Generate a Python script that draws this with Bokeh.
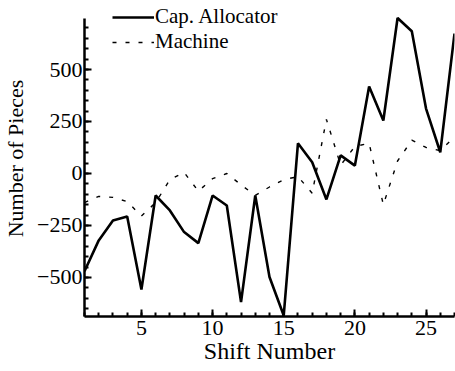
from bokeh.plotting import figure
from bokeh.models import Range1d, SingleIntervalTicker, Legend, LegendItem
from bokeh.embed import file_html
from bokeh.resources import INLINE

shifts = list(range(1, 28))
cap_allocator = [-470, -322, -226, -207, -558, -106, -178, -282, -335, -106,
                 -154, -619, -106, -498, -683, 145, 54, -125, 87, 38,
                 418, 255, 748, 684, 312, 102, 673]
machine = [-140, -110, -115, -135, -205, -140, -30, 5, -85, -25,
           0, -55, -105, -65, -30, -15, -95, 260, 40, 130,
           145, -150, 60, 160, 125, 110, 175]

FONT = "Liberation Serif"

p = figure(width=455, height=371, output_backend="svg", toolbar_location=None,
           x_range=Range1d(1, 27), y_range=Range1d(-688, 832),
           min_border_left=77, min_border_right=1, min_border_top=0,
           min_border_bottom=55)
p.outline_line_color = None
p.xgrid.visible = False
p.ygrid.visible = False
p.background_fill_color = "white"
p.border_fill_color = "white"

r1 = p.line(shifts, cap_allocator, line_color="black", line_width=2.6)
r2 = p.line(shifts, machine, line_color="black", line_width=1.4, line_dash="4 9")

for ax in (p.xaxis[0], p.yaxis[0]):
    ax.axis_line_width = 2.5
    ax.axis_line_color = "black"
    ax.major_tick_in = 7
    ax.major_tick_out = 0
    ax.minor_tick_in = 4
    ax.minor_tick_out = 0
    ax.major_tick_line_width = 2
    ax.minor_tick_line_width = 2
    ax.major_tick_line_color = "black"
    ax.minor_tick_line_color = "black"
    ax.major_label_text_font = FONT
    ax.major_label_text_font_size = "22px"
    ax.major_label_text_color = "black"
    ax.axis_label_text_font = FONT
    ax.axis_label_text_font_style = "normal"
    ax.axis_label_text_color = "black"

p.yaxis[0].bounds = (-688, 745)
p.xaxis[0].ticker = SingleIntervalTicker(interval=5, num_minor_ticks=5)
p.yaxis[0].ticker = SingleIntervalTicker(interval=250, num_minor_ticks=5)
p.xaxis.axis_label = "Shift Number"
p.yaxis.axis_label = "Number of Pieces"
p.xaxis.axis_label_text_font_size = "24px"
p.yaxis.axis_label_text_font_size = "22px"
p.xaxis.major_label_standoff = 4
p.xaxis.axis_label_standoff = 0
p.yaxis.major_label_standoff = 2
p.yaxis.axis_label_standoff = 6

legend = Legend(items=[LegendItem(label="Cap. Allocator", renderers=[r1]),
                       LegendItem(label="Machine", renderers=[r2])],
                location=(28, 262), border_line_color=None,
                background_fill_alpha=0, padding=0, margin=0, spacing=0,
                glyph_width=42, glyph_height=20, label_height=20,
                label_standoff=1, label_text_font=FONT,
                label_text_font_size="21px", label_text_color="black")
p.add_layout(legend)

open("out.html", "w").write(file_html(p, INLINE))
